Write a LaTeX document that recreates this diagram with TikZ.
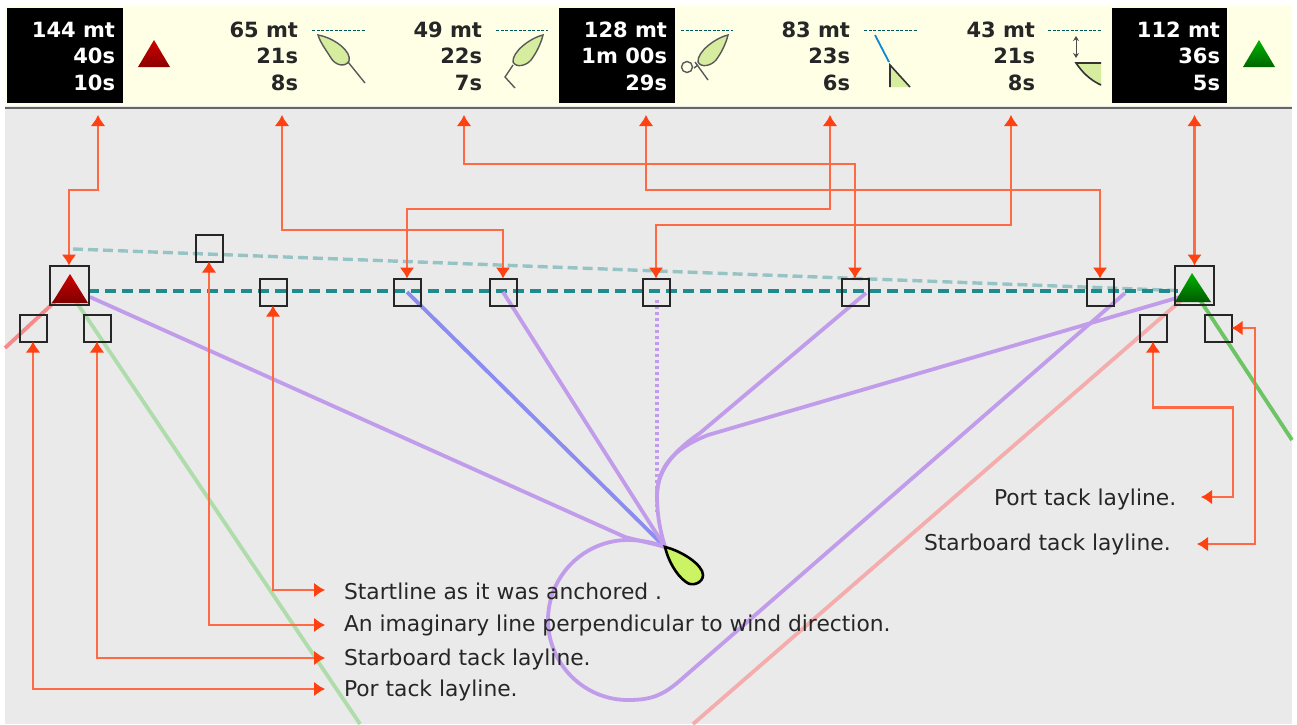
\documentclass[tikz,border=0pt]{standalone}
\usepackage{fontspec}
\setmainfont{DejaVu Sans}
\usetikzlibrary{arrows.meta,calc}
\definecolor{bgg}{HTML}{EAEAEA}
\definecolor{band}{HTML}{FFFFE6}
\definecolor{conn}{HTML}{FF6A45}
\definecolor{tipc}{HTML}{FF4010}
\definecolor{purp}{HTML}{C09CEA}
\definecolor{bluel}{HTML}{8A8CF0}
\definecolor{tealD}{HTML}{1E8C8C}
\definecolor{tealL}{HTML}{96C4C4}
\definecolor{pinkl}{HTML}{F4ACAC}
\definecolor{pinks}{HTML}{F48A8A}
\definecolor{greenl}{HTML}{AEDCAA}
\definecolor{greens}{HTML}{6CC464}
\definecolor{leaf}{HTML}{D6EC9E}
\tikzset{
  every node/.style={inner sep=0pt,outer sep=0pt},
  sqr/.style={draw=black!85,line width=2pt,minimum size=27pt},
  bigsqr/.style={draw=black!85,line width=2pt,minimum size=39pt},
  cn/.style={draw=conn,line width=2.2pt,{Latex[length=11pt,width=15pt,color=tipc]}-{Latex[length=11pt,width=15pt,color=tipc]}},
  lab/.style={anchor=west,font=\fontsize{21.8}{24}\selectfont,text=black!85},
  stat/.style={anchor=east,align=right,font=\fontsize{21}{26.5}\selectfont\bfseries},
  blk/.style={fill=black},
  track/.style={draw=purp,line width=3.8pt},
  icon/.style={draw=black!65,line width=1.4pt},
  startd/.style={draw=teal!70!black,line width=1.5pt,dash pattern=on 3pt off 1.5pt}
}
\begin{document}
\begin{tikzpicture}[x=1pt,y=-1pt]
\useasboundingbox (0,0) rectangle (1297,724);
\fill[white] (0,0) rectangle (1297,724);
\fill[bgg] (5,106) rectangle (1292,724);
\fill[band] (5,6) rectangle (1292,106);
\draw[black!60,line width=2pt] (5,108) -- (1292,108);
\fill[blk] (7,8) rectangle (123,103);
\fill[blk] (559,8) rectangle (675,103);
\fill[blk] (1112,8) rectangle (1227,103);
% stats
\node[stat,text=white] (s1) at (115,56) {144 mt\\40s\\10s};
\node[stat,text=black!85] (s2) at (298,56) {65 mt\\21s\\8s};
\node[stat,text=black!85] (s3) at (482,56) {49 mt\\22s\\7s};
\node[stat,text=white] (s4) at (667,56) {128 mt\\1m 00s\\29s};
\node[stat,text=black!85] (s5) at (850,56) {83 mt\\23s\\6s};
\node[stat,text=black!85] (s6) at (1035,56) {43 mt\\21s\\8s};
\node[stat,text=white] (s7) at (1220,56) {112 mt\\36s\\5s};
% band triangles
\shade[top color=red!80!black,bottom color=red!55!black] (154,40) -- (170,67) -- (138,67) -- cycle;
\shade[top color=green!70!black,bottom color=green!40!black] (1259,40) -- (1275,67) -- (1243,67) -- cycle;
% band icons
\foreach \a/\b in {312/365,496/548,681/733,864/917,1048/1101}
  \draw[startd] (\a,30.5) -- (\b,30.5);
\draw[icon] (348,62) -- (365,83);
\filldraw[icon,fill=leaf] (318,35) .. controls (335,38) and (352,52) .. (349,61) .. controls (345,68) and (335,65) .. (331,58) .. controls (326,50) and (320,42) .. (318,35) -- cycle;
\draw[icon] (513,65) -- (505,77) -- (515,88);
\filldraw[icon,fill=leaf] (543,35) .. controls (530,38) and (512,52) .. (513,62) .. controls (516,68) and (526,66) .. (531,60) .. controls (537,52) and (541,43) .. (543,35) -- cycle;
\draw[icon] (695,62) -- (708,80);
\draw[icon] (698,65) -- (694,68);
\draw[icon] (687,67) circle (5.5);
\filldraw[icon,fill=leaf] (728,35) .. controls (715,38) and (697,52) .. (698,62) .. controls (701,68) and (711,66) .. (716,60) .. controls (722,52) and (726,43) .. (728,35) -- cycle;
\draw[draw=cyan!70!blue,line width=1.8pt] (875,35) -- (889,62);
\fill[leaf] (890,65) -- (910,87) -- (890,87) -- cycle;
\draw[black!80,line width=1.6pt] (890,87) -- (890,65) -- (910,87);
\fill[leaf] (1076,63) -- (1101,63) -- (1101,85) .. controls (1090,80) and (1082,72) .. (1076,63);
\draw[black!80,line width=1.6pt] (1101,63) -- (1076,63) .. controls (1082,72) and (1090,80) .. (1101,85);
\draw[black!70,line width=1pt,{Stealth[length=5pt,width=6pt]}-{Stealth[length=5pt,width=6pt]}] (1076,36) -- (1076,58);
% laylines
\draw[pinks,line width=3.8pt] (5,348) -- (62,295);
\draw[greenl,line width=3.8pt] (75,300) -- (360,724);
\draw[pinkl,line width=3.8pt] (1185,297) -- (693,724);
\draw[greens,line width=3.8pt] (1200,300) -- (1292,440);
% start lines
\draw[tealL,line width=3.4pt,dash pattern=on 10pt off 5pt] (73,249) -- (1190,291);
\draw[tealD,line width=3.4pt,dash pattern=on 11pt off 6pt] (88,291) -- (1178,291);
% tracks
\coordinate (boat) at (665,547);
\draw[track] (90,297) -- (625,537) .. controls (640,541) and (655,544) .. (boat);
\draw[bluel,line width=3.8pt] (407,292) -- (boat);
\draw[track] (503,292) -- (boat);
\draw[track,line width=3.4pt,dash pattern=on 3pt off 3pt] (657,300) -- (657,512);
\draw[track] (boat) .. controls (660,530) and (657,515) .. (657,495) .. controls (657,470) and (675,450) .. (700,433) -- (866,293);
\draw[track] (657,495) .. controls (658,462) and (680,446) .. (708,435) -- (1180,297);
\draw[track] (boat) .. controls (655,543) and (642,540) .. (628,540) .. controls (584,540) and (548,576) .. (548,620) .. controls (548,664) and (584,700) .. (628,700) .. controls (651,700) and (662.6,695.5) .. (680,680.5) -- (1125,293);
% main boat
\filldraw[draw=black,line width=2.6pt,fill=leaf!70!yellow!90!green] (boat) .. controls (682,551) and (703,565) .. (703,575) .. controls (703,583) and (692,587) .. (686,582) .. controls (676,575) and (668,560) .. (boat) -- cycle;
% course triangles
\shade[top color=red!80!black,bottom color=red!50!black] (70,274) -- (88,303) -- (52,303) -- cycle;
\shade[top color=green!70!black,bottom color=green!35!black] (1192,273) -- (1211,302) -- (1175,302) -- cycle;
% marker squares
\node[bigsqr] (mR) at (69,285) {};
\node[bigsqr] (mG) at (1194.5,285) {};
\node[sqr] (w) at (209,248) {};
\node[sqr] (a) at (273,292) {};
\node[sqr] (b) at (407,292) {};
\node[sqr] (c) at (503,292) {};
\node[sqr] (d) at (656,292) {};
\node[sqr] (e) at (855,292) {};
\node[sqr] (f) at (1100,292) {};
\node[sqr] (pl) at (33,328) {};
\node[sqr] (sl) at (97,328) {};
\node[sqr] (pr) at (1153,328) {};
\node[sqr] (sr) at (1218,328) {};
% labels
\node[lab] (l1) at (344,591) {Startline as it was anchored .};
\node[lab] (l2) at (344,625) {An imaginary line perpendicular to wind direction.};
\node[lab] (l3) at (344,659) {Starboard tack layline.};
\node[lab] (l4) at (344,690) {Por tack layline.};
\node[lab] (l5) at (994,499) {Port tack layline.};
\node[lab] (l6) at (924,544) {Starboard tack layline.};
% connector free ends
\coordinate (t1) at (98,115);
\coordinate (t2) at (282,115);
\coordinate (t3) at (464,115);
\coordinate (t4) at (646,115);
\coordinate (t5) at (830,115);
\coordinate (t6) at (1011,115);
\coordinate (t7) at (mG.north |- 0,115);
\coordinate (e1) at (325,590);
\coordinate (e2) at (325,625);
\coordinate (e3) at (325,658);
\coordinate (e4) at (325,689);
\coordinate (e5) at (1201,497);
\coordinate (e6) at (1197,544);
% connectors
\draw[cn] (t1) -- ++(0,75) -| (mR.north);
\draw[cn] (t2) -- ++(0,115) -| (c.north);
\draw[cn] (t3) -- ++(0,49) -| (e.north);
\draw[cn] (t4) -- ++(0,75) -| (f.north);
\draw[cn] (t5) -- ++(0,94) -| (b.north);
\draw[cn] (t6) -- ++(0,110) -| (d.north);
\draw[cn] (t7) -- (mG.north);
\draw[cn] (e1) -| (a.south);
\draw[cn] (e2) -| (w.south);
\draw[cn] (e3) -| (sl.south);
\draw[cn] (e4) -| (pl.south);
\draw[cn] (e5) -- ++(32,0) |- ($(pr.south)+(0,66)$) -- (pr.south);
\draw[cn] (e6) -- ++(58,0) |- (sr.east);
\end{tikzpicture}
\end{document}
